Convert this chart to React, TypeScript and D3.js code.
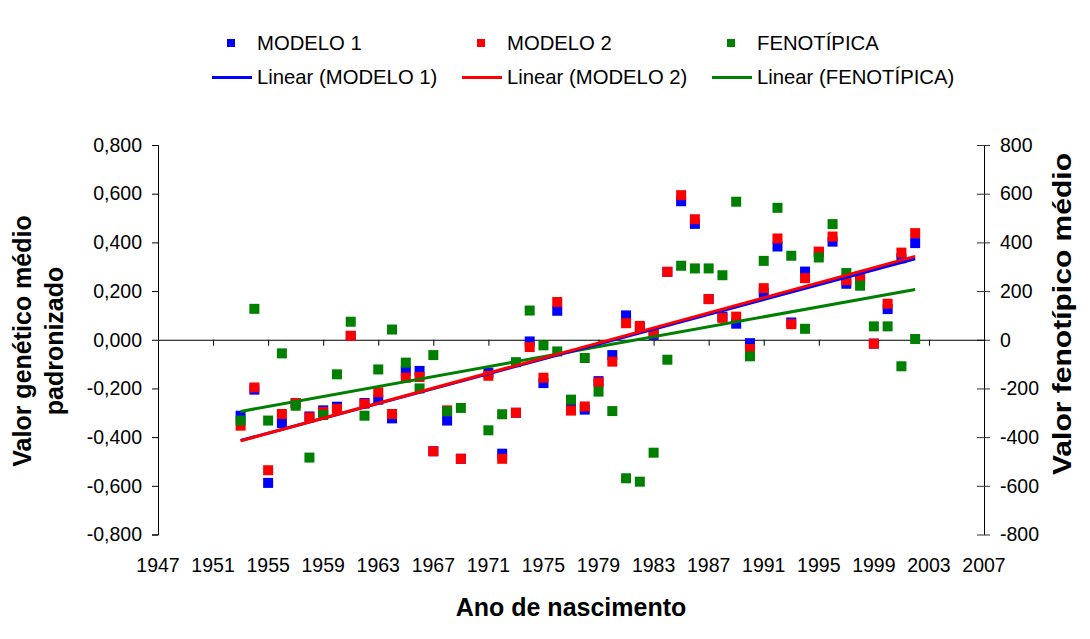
import React, { useEffect, useRef } from "react";
import * as d3 from "d3";

// anos de nascimento (1970 não aparece no gráfico)
const years = [
  1953, 1954, 1955, 1956, 1957, 1958, 1959, 1960, 1961, 1962, 1963, 1964, 1965, 1966, 1967, 1968, 1969,
  1971, 1972, 1973, 1974, 1975, 1976, 1977, 1978, 1979, 1980, 1981, 1982, 1983, 1984, 1985, 1986, 1987,
  1988, 1989, 1990, 1991, 1992, 1993, 1994, 1995, 1996, 1997, 1998, 1999, 2000, 2001, 2002,
];

const modelo1 = [
  -0.312, -0.205, -0.588, -0.342, -0.26, -0.315, -0.29, -0.275, 0.016, -0.26, -0.246, -0.323, -0.128, -0.128, -0.458, -0.332, -0.489,
  -0.135, -0.468, -0.3, -0.007, -0.178, 0.119, -0.274, -0.287, -0.17, -0.063, 0.1, 0.05, 0.02, 0.279, 0.569, 0.476, 0.167,
  0.095, 0.066, -0.014, 0.193, 0.383, 0.071, 0.28, 0.36, 0.403, 0.23, 0.25, -0.016, 0.126, 0.335, 0.397,
];

const modelo2 = [
  -0.353, -0.196, -0.536, -0.305, -0.26, -0.319, -0.297, -0.284, 0.016, -0.263, -0.216, -0.305, -0.156, -0.153, -0.458, -0.29, -0.489,
  -0.148, -0.489, -0.3, -0.03, -0.156, 0.155, -0.291, -0.274, -0.175, -0.09, 0.068, 0.057, 0.027, 0.279, 0.594, 0.495, 0.167,
  0.09, 0.095, -0.038, 0.212, 0.416, 0.064, 0.253, 0.362, 0.424, 0.245, 0.26, -0.016, 0.148, 0.358, 0.438,
];

const fenotipica = [
  -332, 127, -332, -56, -271, -484, -309, -142, 74, -312, -122, 42, -94, -200, -63, -294, -280,
  -372, -306, -92, 120, -23, -48, -246, -75, -213, -293, -569, -583, -464, -82, 304, 293, 293,
  265, 567, -68, 324, 542, 345, 45, 338, 475, 274, 222, 55, 55, -109, 3,
];

const xTicks = d3.range(1947, 2008, 4);
const leftTicks = [-0.8, -0.6, -0.4, -0.2, 0, 0.2, 0.4, 0.6, 0.8];
const rightTicks = [-800, -600, -400, -200, 0, 200, 400, 600, 800];

const BLUE = "#0000ff";
const RED = "#ff0000";
const GREEN = "#008000";

// regressão linear simples (linha de tendência do Excel)
function trend(xs: number[], ys: number[]) {
  const mx = d3.mean(xs)!;
  const my = d3.mean(ys)!;
  let num = 0;
  let den = 0;
  xs.forEach((x, i) => {
    num += (x - mx) * (ys[i] - my);
    den += (x - mx) * (x - mx);
  });
  const b = num / den;
  const a = my - b * mx;
  const x0 = d3.min(xs)!;
  const x1 = d3.max(xs)!;
  return [
    [x0, a + b * x0],
    [x1, a + b * x1],
  ];
}

const App = () => {
  const svgRef = useRef<SVGSVGElement>(null);

  useEffect(() => {
    const w = 1090;
    const h = 639;
    const svg = d3.select(svgRef.current).attr("width", w).attr("height", h);
    svg.selectAll("*").remove();

    const font = "'Liberation Sans', Arial, sans-serif";

    const x = d3.scaleLinear().domain([1947, 2007]).range([158, 984]);
    const yL = d3.scaleLinear().domain([-0.8, 0.8]).range([534.5, 145]);
    const yR = d3.scaleLinear().domain([-800, 800]).range([534.5, 145]);

    const fmtL = (d: number) => d3.format(".3f")(d).replace(".", ",").replace("−", "-");
    const fmtR = (d: number) => d3.format("d")(d).replace("−", "-");

    // eixo esquerdo
    const left = svg
      .append("g")
      .attr("transform", `translate(${x(1947)},0)`)
      .call(d3.axisLeft(yL).tickValues(leftTicks).tickFormat((d) => fmtL(+d)).tickSize(6).tickPadding(10));
    left.select(".domain").attr("stroke", "#000");
    left.selectAll("text").attr("font-family", font).attr("font-size", 19.5).attr("fill", "#000");

    // eixo direito (marcas cruzadas)
    const right = svg
      .append("g")
      .attr("transform", `translate(${x(2007)},0)`)
      .call(d3.axisRight(yR).tickValues(rightTicks).tickFormat((d) => fmtR(+d)).tickSizeInner(6).tickSizeOuter(0).tickPadding(10));
    right.select(".domain").attr("stroke", "#000");
    right.selectAll(".tick line").attr("x1", -7).attr("x2", 6).attr("stroke", "#333");
    right.selectAll("text").attr("font-family", font).attr("font-size", 19.5).attr("fill", "#000");

    // eixo x cruza em zero
    const bottom = svg
      .append("g")
      .attr("transform", `translate(0,${yL(0)})`)
      .call(d3.axisBottom(x).tickValues(xTicks).tickFormat(d3.format("d")).tickSize(6).tickSizeOuter(0));
    bottom.select(".domain").attr("stroke", "#000");
    bottom.selectAll("text").remove();

    svg
      .append("g")
      .selectAll("text")
      .data(xTicks)
      .join("text")
      .attr("x", (d) => x(d))
      .attr("y", 572)
      .attr("text-anchor", "middle")
      .attr("font-family", font)
      .attr("font-size", 19.5)
      .text((d) => d);

    // pontos
    const sq = 10;
    const drawPoints = (vals: number[], scale: d3.ScaleLinear<number, number>, color: string) => {
      svg
        .append("g")
        .selectAll("rect")
        .data(vals)
        .join("rect")
        .attr("x", (d, i) => x(years[i]) - sq / 2)
        .attr("y", (d) => scale(d) - sq / 2)
        .attr("width", sq)
        .attr("height", sq)
        .attr("fill", color);
    };
    drawPoints(modelo1, yL, BLUE);
    drawPoints(modelo2, yL, RED);
    drawPoints(fenotipica, yR, GREEN);

    // linhas de tendência
    const lineL = d3.line<number[]>().x((d) => x(d[0])).y((d) => yL(d[1]));
    const lineR = d3.line<number[]>().x((d) => x(d[0])).y((d) => yR(d[1]));
    svg.append("path").attr("d", lineR(trend(years, fenotipica))).attr("stroke", GREEN).attr("stroke-width", 3).attr("fill", "none");
    svg.append("path").attr("d", lineL(trend(years, modelo1))).attr("stroke", BLUE).attr("stroke-width", 3).attr("fill", "none");
    svg.append("path").attr("d", lineL(trend(years, modelo2))).attr("stroke", RED).attr("stroke-width", 3).attr("fill", "none");

    // legenda
    const legend = [
      { name: "MODELO 1", color: BLUE },
      { name: "MODELO 2", color: RED },
      { name: "FENOTÍPICA", color: GREEN },
    ];
    legend.forEach((d, i) => {
      const lx = 212 + i * 250;
      svg.append("rect").attr("x", lx + 15).attr("y", 39).attr("width", 8).attr("height", 8).attr("fill", d.color);
      svg
        .append("text")
        .attr("x", lx + 45)
        .attr("y", 49.5)
        .attr("font-family", font)
        .attr("font-size", 20.3)
        .text(d.name);
      svg
        .append("line")
        .attr("x1", lx)
        .attr("x2", lx + 40)
        .attr("y1", 77.5)
        .attr("y2", 77.5)
        .attr("stroke", d.color)
        .attr("stroke-width", 3);
      svg
        .append("text")
        .attr("x", lx + 45)
        .attr("y", 83.5)
        .attr("font-family", font)
        .attr("font-size", 20.3)
        .text(`Linear (${d.name})`);
    });

    // títulos dos eixos
    svg
      .append("text")
      .attr("x", 571)
      .attr("y", 616)
      .attr("text-anchor", "middle")
      .attr("font-family", font)
      .attr("font-weight", "bold")
      .attr("font-size", 25)
      .text("Ano de nascimento");

    const lt = svg
      .append("text")
      .attr("transform", "translate(0,341) rotate(-90)")
      .attr("text-anchor", "middle")
      .attr("font-family", font)
      .attr("font-weight", "bold")
      .attr("font-size", 25);
    lt.append("tspan").attr("x", 0).attr("y", 31).text("Valor genético médio");
    lt.append("tspan").attr("x", 0).attr("y", 63).text("padronizado");

    svg
      .append("text")
      .attr("transform", "translate(1071,314) rotate(-90)")
      .attr("text-anchor", "middle")
      .attr("font-family", font)
      .attr("font-weight", "bold")
      .attr("font-size", 25)
      .attr("textLength", 322)
      .attr("lengthAdjust", "spacingAndGlyphs")
      .text("Valor fenotípico médio");
  }, []);

  return <svg ref={svgRef} style={{ position: "absolute", left: 0, top: 0 }}></svg>;
};

export default App;
